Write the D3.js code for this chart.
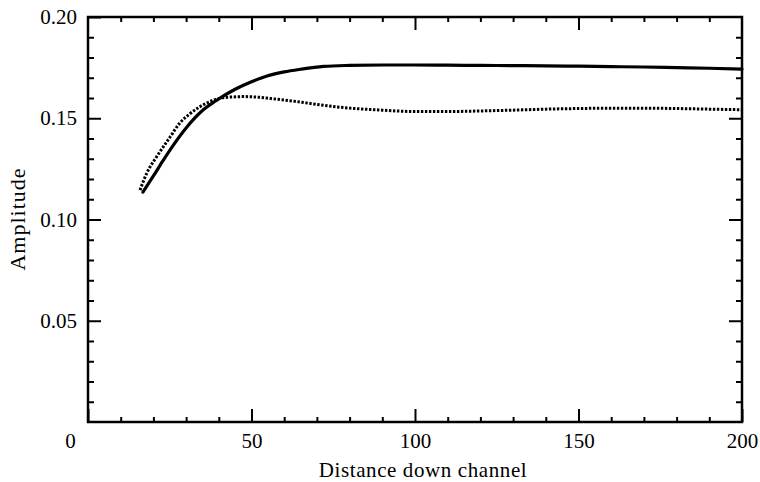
<!DOCTYPE html>
<html>
<head>
<meta charset="utf-8">
<script src="https://cdn.jsdelivr.net/npm/d3@7"></script>
<style>
  body { margin: 0; background: #fff; }
  svg text { font-family: "Liberation Serif", "Times New Roman", serif; fill: #000; }
</style>
</head>
<body>
<svg id="svg" width="760" height="482"></svg>
<script>
// solid curve
let solidX = [16.8, 20, 23, 26, 30, 35, 39, 45, 50, 55, 60, 65, 72, 80, 90, 100, 110, 120, 130, 140, 150, 160, 170, 180, 190, 200];
let solidY = [0.1135, 0.1215, 0.1292, 0.1365, 0.1452, 0.1538, 0.1585, 0.1643, 0.1680, 0.1710, 0.1729, 0.1742, 0.1756, 0.1761, 0.1763, 0.1763, 0.1762, 0.1761, 0.1760, 0.1759, 0.1757, 0.1755, 0.1753, 0.1750, 0.1747, 0.1743];
// dotted curve
let dotX = [15.9, 18, 21, 25, 28, 31, 34, 37, 40, 44, 48, 52, 56, 60, 65, 70, 80, 90, 100, 110, 120, 130, 140, 150, 160, 170, 180, 190, 200];
let dotY = [0.1145, 0.1230, 0.1310, 0.1405, 0.1475, 0.1520, 0.1555, 0.1580, 0.1598, 0.1605, 0.1607, 0.1604, 0.1597, 0.1590, 0.1580, 0.1568, 0.1550, 0.1540, 0.1533, 0.1533, 0.1536, 0.1540, 0.1545, 0.1548, 0.1550, 0.1550, 0.1548, 0.1545, 0.1542];

let xMajor = [0, 50, 100, 150, 200];
let yMajor = [0.05, 0.10, 0.15, 0.20];
let xTitle = "Distance down channel";
let yTitle = "Amplitude";

let svg = d3.select("svg");
let margin = {top: 17, right: 18, bottom: 60, left: 88};
let width = 760 - margin.left - margin.right;
let height = 482 - margin.top - margin.bottom;

let g = svg.append("g").attr("transform", "translate(" + margin.left + "," + margin.top + ")");

let x = d3.scaleLinear().domain([0, 200]).range([0, width]);
let y = d3.scaleLinear().domain([0, 0.2]).range([height, 0]);

let xMinor = d3.range(10, 200, 10).filter(v => v % 50 != 0);
let yMinor = d3.range(1, 20).map(v => v / 100).filter(v => Math.round(v * 100) % 5 != 0);

function styleAxis(sel) {
  sel.select(".domain").remove();
  sel.selectAll(".tick line").attr("stroke", "#000").attr("stroke-width", 2);
}

// minor ticks on all four sides
g.append("g").attr("transform", "translate(0," + height + ")")
  .call(d3.axisBottom(x).tickValues(xMinor).tickSize(-5).tickFormat(""))
  .call(styleAxis);
g.append("g")
  .call(d3.axisTop(x).tickValues(xMinor).tickSize(-5).tickFormat(""))
  .call(styleAxis);
g.append("g")
  .call(d3.axisLeft(y).tickValues(yMinor).tickSize(-6).tickFormat(""))
  .call(styleAxis);
g.append("g").attr("transform", "translate(" + width + ",0)")
  .call(d3.axisRight(y).tickValues(yMinor).tickSize(-6).tickFormat(""))
  .call(styleAxis);

// major ticks with labels
let xAxis = g.append("g").attr("transform", "translate(0," + height + ")")
  .call(d3.axisBottom(x).tickValues(xMajor).tickSize(-13).tickPadding(11).tickFormat(d3.format("d")))
  .call(styleAxis);
xAxis.selectAll("text").attr("font-size", 21);
xAxis.selectAll(".tick").filter(d => d == 0).select("text").attr("dx", -18);

let yAxis = g.append("g")
  .call(d3.axisLeft(y).tickValues(yMajor).tickSize(-13).tickPadding(11).tickFormat(d3.format(".2f")))
  .call(styleAxis);
yAxis.selectAll("text").attr("font-size", 21);

g.append("g")
  .call(d3.axisTop(x).tickValues([50, 100, 150]).tickSize(-13).tickFormat(""))
  .call(styleAxis);
g.append("g").attr("transform", "translate(" + width + ",0)")
  .call(d3.axisRight(y).tickValues([0.05, 0.10, 0.15]).tickSize(-13).tickFormat(""))
  .call(styleAxis);

// frame
g.append("rect")
  .attr("width", width).attr("height", height)
  .attr("fill", "none").attr("stroke", "#000").attr("stroke-width", 2.5);

let line = d3.line()
  .x(d => x(d[0]))
  .y(d => y(d[1]))
  .curve(d3.curveMonotoneX);

g.append("path")
  .datum(d3.zip(solidX, solidY))
  .attr("fill", "none")
  .attr("stroke", "#000")
  .attr("stroke-width", 3.2)
  .attr("stroke-linecap", "round")
  .attr("d", line);

g.append("path")
  .datum(d3.zip(dotX, dotY))
  .attr("fill", "none")
  .attr("stroke", "#000")
  .attr("stroke-width", 3)
  .attr("stroke-dasharray", "2.4,1.6")
  .attr("d", line);

// titles
svg.append("text")
  .attr("x", margin.left + width / 2 + 8)
  .attr("y", 477)
  .attr("text-anchor", "middle")
  .attr("font-size", 21)
  .attr("letter-spacing", 0.6)
  .text(xTitle);

svg.append("text")
  .attr("transform", "translate(25," + (margin.top + 202) + ") rotate(-90)")
  .attr("text-anchor", "middle")
  .attr("font-size", 22)
  .attr("letter-spacing", 1)
  .text(yTitle);
</script>
</body>
</html>
